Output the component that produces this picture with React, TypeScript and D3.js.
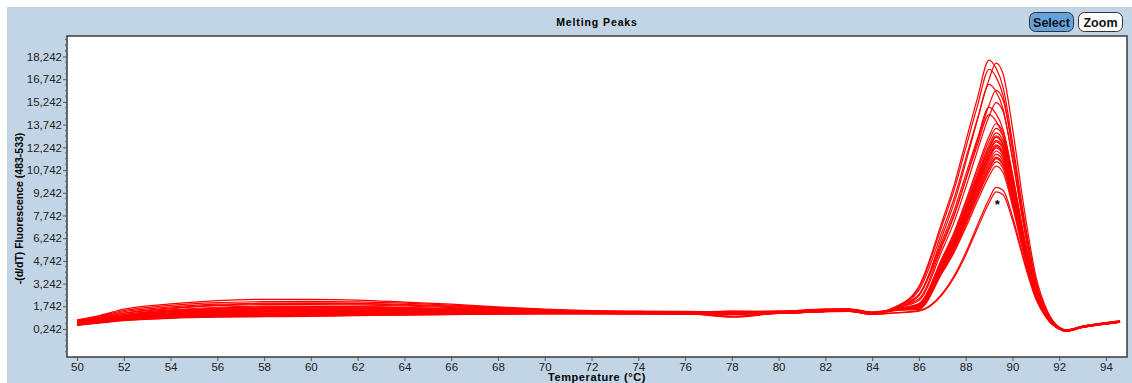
import React, { useEffect, useRef } from 'react';
import * as d3 from 'd3';

// temperatures shared by every trace (°C)
const temps = [50, 51, 52, 54, 56, 58, 60, 62, 64, 66, 68, 70, 72, 74, 76, 78, 80, 82, 83, 84,
  85, 86, 87, 87.5, 88, 88.5, 89, 89.3, 89.6, 90, 90.5, 91, 91.5, 92, 92.3, 93, 94, 94.6];

// -(d/dT) fluorescence per sample
const s01 = [0.85, 1.15, 1.55, 1.90, 2.12, 2.20, 2.20, 2.15, 2.02, 1.88, 1.70, 1.55, 1.45, 1.42, 1.40, 1.38, 1.40, 1.55, 1.58, 1.38,
  1.55, 1.76, 4.54, 6.05, 7.94, 9.95, 11.84, 12.6, 12.1, 9.58, 5.80, 2.65, 1.01, 0.28, 0.12, 0.38, 0.60, 0.72];
const s02 = [0.80, 1.10, 1.45, 1.80, 1.98, 2.05, 2.07, 2.03, 1.95, 1.82, 1.66, 1.52, 1.43, 1.40, 1.38, 1.40, 1.42, 1.55, 1.56, 1.35,
  1.55, 1.85, 4.75, 6.34, 8.32, 10.43, 12.41, 13.2, 12.67, 10.03, 6.07, 2.77, 1.06, 0.30, 0.14, 0.40, 0.62, 0.74];
const s03 = [0.75, 1.00, 1.30, 1.62, 1.82, 1.90, 1.92, 1.90, 1.82, 1.72, 1.60, 1.48, 1.40, 1.38, 1.36, 1.30, 1.38, 1.52, 1.55, 1.32,
  1.50, 1.65, 4.25, 5.66, 7.43, 9.32, 11.09, 11.8, 11.33, 8.97, 5.43, 2.48, 0.94, 0.25, 0.10, 0.36, 0.58, 0.70];
const s04 = [0.78, 1.02, 1.28, 1.58, 1.78, 1.85, 1.86, 1.83, 1.76, 1.66, 1.55, 1.46, 1.40, 1.36, 1.35, 1.42, 1.40, 1.50, 1.53, 1.30,
  1.65, 2.79, 6.72, 8.86, 11.48, 14.10, 16.4, 15.91, 14.76, 11.48, 6.89, 3.12, 1.15, 0.32, 0.16, 0.42, 0.64, 0.76];
const s05 = [0.70, 0.95, 1.20, 1.50, 1.68, 1.75, 1.76, 1.74, 1.68, 1.60, 1.52, 1.44, 1.38, 1.35, 1.33, 1.36, 1.37, 1.50, 1.52, 1.30,
  1.52, 1.71, 4.39, 5.86, 7.69, 9.64, 11.47, 12.2, 11.71, 9.27, 5.61, 2.56, 0.98, 0.27, 0.12, 0.37, 0.59, 0.71];
const s06 = [0.68, 0.92, 1.15, 1.45, 1.63, 1.70, 1.72, 1.70, 1.64, 1.57, 1.50, 1.43, 1.37, 1.35, 1.32, 1.28, 1.36, 1.48, 1.50, 1.28,
  1.70, 3.06, 7.38, 9.72, 12.6, 15.48, 18.0, 17.46, 16.2, 12.6, 7.56, 3.42, 1.26, 0.34, 0.18, 0.44, 0.66, 0.78];
const s07 = [0.72, 0.90, 1.12, 1.42, 1.58, 1.65, 1.66, 1.64, 1.60, 1.54, 1.47, 1.42, 1.36, 1.34, 1.32, 1.35, 1.35, 1.47, 1.50, 1.28,
  1.56, 1.89, 4.86, 6.48, 8.51, 10.67, 12.69, 13.5, 12.96, 10.26, 6.21, 2.84, 1.08, 0.30, 0.14, 0.40, 0.62, 0.74];
const s08 = [0.65, 0.88, 1.10, 1.38, 1.54, 1.60, 1.62, 1.60, 1.56, 1.51, 1.45, 1.40, 1.35, 1.33, 1.31, 1.40, 1.35, 1.46, 1.49, 1.27,
  1.48, 1.58, 4.07, 5.42, 7.12, 8.93, 10.62, 11.3, 10.85, 8.59, 5.20, 2.37, 0.90, 0.24, 0.10, 0.35, 0.58, 0.70];
const s09 = [0.66, 0.86, 1.06, 1.33, 1.49, 1.55, 1.56, 1.55, 1.52, 1.48, 1.43, 1.38, 1.34, 1.32, 1.30, 1.25, 1.34, 1.45, 1.48, 1.26,
  1.54, 1.81, 4.64, 6.19, 8.13, 10.19, 12.13, 12.9, 12.38, 9.80, 5.93, 2.71, 1.03, 0.29, 0.13, 0.39, 0.61, 0.73];
const s10 = [0.62, 0.84, 1.04, 1.30, 1.45, 1.50, 1.52, 1.51, 1.49, 1.45, 1.41, 1.37, 1.33, 1.31, 1.30, 1.33, 1.33, 1.45, 1.48, 1.26,
  1.68, 2.96, 7.13, 9.40, 12.18, 14.96, 17.4, 16.88, 15.66, 12.18, 7.31, 3.31, 1.22, 0.34, 0.17, 0.43, 0.65, 0.77];
const s11 = [0.64, 0.82, 1.00, 1.25, 1.40, 1.45, 1.47, 1.46, 1.45, 1.42, 1.39, 1.35, 1.32, 1.30, 1.29, 1.30, 1.32, 1.44, 1.47, 1.25,
  1.52, 1.68, 4.32, 5.76, 7.56, 9.48, 11.28, 12.0, 11.52, 9.12, 5.52, 2.52, 0.96, 0.26, 0.11, 0.37, 0.59, 0.71];
const s12 = [0.60, 0.80, 0.98, 1.22, 1.37, 1.42, 1.44, 1.44, 1.42, 1.40, 1.37, 1.34, 1.31, 1.30, 1.28, 1.05, 1.31, 1.43, 1.46, 1.25,
  1.58, 2.45, 5.90, 7.78, 10.08, 12.38, 14.4, 13.97, 12.96, 10.08, 6.05, 2.74, 1.01, 0.28, 0.13, 0.39, 0.61, 0.73];
const s13 = [0.62, 0.78, 0.96, 1.20, 1.33, 1.38, 1.40, 1.40, 1.39, 1.38, 1.35, 1.33, 1.30, 1.29, 1.28, 1.30, 1.31, 1.43, 1.46, 1.24,
  1.46, 1.54, 3.96, 5.28, 6.93, 8.69, 10.34, 11.0, 10.56, 8.36, 5.06, 2.31, 0.88, 0.24, 0.09, 0.34, 0.57, 0.69];
const s14 = [0.58, 0.77, 0.94, 1.17, 1.30, 1.35, 1.37, 1.37, 1.36, 1.35, 1.33, 1.31, 1.29, 1.28, 1.27, 1.28, 1.30, 1.42, 1.45, 1.24,
  1.54, 1.82, 4.68, 6.24, 8.19, 10.27, 12.22, 13.0, 12.48, 9.88, 5.98, 2.73, 1.04, 0.29, 0.13, 0.39, 0.61, 0.73];
const s15 = [0.60, 0.76, 0.92, 1.13, 1.26, 1.30, 1.32, 1.33, 1.33, 1.32, 1.31, 1.30, 1.28, 1.27, 1.26, 1.32, 1.30, 1.42, 1.45, 1.24,
  1.64, 2.24, 5.76, 7.68, 10.08, 12.64, 15.04, 16.0, 15.36, 12.16, 7.36, 3.36, 1.28, 0.34, 0.16, 0.42, 0.64, 0.76];
const s16 = [0.56, 0.74, 0.90, 1.11, 1.24, 1.28, 1.30, 1.31, 1.31, 1.31, 1.30, 1.29, 1.28, 1.27, 1.26, 1.27, 1.29, 1.41, 1.44, 1.23,
  1.53, 1.74, 4.46, 5.95, 7.81, 9.80, 11.66, 12.4, 11.90, 9.42, 5.70, 2.60, 0.99, 0.27, 0.12, 0.38, 0.60, 0.72];
const s17 = [0.58, 0.72, 0.88, 1.07, 1.18, 1.22, 1.25, 1.27, 1.28, 1.28, 1.28, 1.28, 1.27, 1.26, 1.25, 1.02, 1.29, 1.40, 1.43, 1.23,
  1.32, 1.45, 2.59, 3.74, 5.28, 7.10, 8.83, 9.6, 9.41, 7.68, 4.80, 2.30, 0.96, 0.26, 0.11, 0.36, 0.58, 0.70];
const s18 = [0.55, 0.70, 0.86, 1.04, 1.14, 1.18, 1.21, 1.23, 1.25, 1.26, 1.27, 1.27, 1.26, 1.26, 1.25, 1.26, 1.28, 1.40, 1.43, 1.22,
  1.50, 1.62, 4.18, 5.57, 7.31, 9.16, 10.90, 11.6, 11.14, 8.82, 5.34, 2.44, 0.93, 0.25, 0.10, 0.36, 0.58, 0.70];
const s19 = [0.52, 0.68, 0.84, 1.00, 1.09, 1.12, 1.15, 1.18, 1.21, 1.23, 1.25, 1.26, 1.26, 1.25, 1.24, 1.28, 1.28, 1.39, 1.42, 1.22,
  1.70, 2.49, 6.41, 8.54, 11.21, 14.06, 16.73, 17.8, 17.09, 13.53, 8.19, 3.74, 1.42, 0.36, 0.18, 0.44, 0.66, 0.78];
const s20 = [0.50, 0.66, 0.82, 0.97, 1.05, 1.08, 1.11, 1.15, 1.18, 1.21, 1.23, 1.25, 1.25, 1.25, 1.24, 1.25, 1.27, 1.39, 1.42, 1.21,
  1.30, 1.42, 2.51, 3.63, 5.12, 6.88, 8.56, 9.3, 9.11, 7.44, 4.65, 2.23, 0.93, 0.25, 0.10, 0.35, 0.57, 0.69];
const s21 = [0.48, 0.64, 0.80, 0.95, 1.02, 1.05, 1.08, 1.12, 1.16, 1.19, 1.22, 1.24, 1.25, 1.24, 1.23, 1.20, 1.27, 1.38, 1.41, 1.21,
  1.53, 1.78, 4.57, 6.10, 8.00, 10.03, 11.94, 12.7, 12.19, 9.65, 5.84, 2.67, 1.02, 0.28, 0.12, 0.38, 0.60, 0.72];
const s22 = [0.54, 0.69, 0.85, 1.02, 1.11, 1.15, 1.18, 1.20, 1.23, 1.25, 1.26, 1.27, 1.26, 1.25, 1.24, 1.10, 1.28, 1.40, 1.42, 1.22,
  1.62, 2.13, 5.47, 7.30, 9.58, 12.01, 14.29, 15.2, 14.59, 11.55, 6.99, 3.19, 1.22, 0.32, 0.15, 0.41, 0.63, 0.75];
const s23 = [0.63, 0.81, 0.99, 1.23, 1.38, 1.43, 1.45, 1.45, 1.43, 1.41, 1.38, 1.34, 1.31, 1.30, 1.28, 1.31, 1.31, 1.43, 1.46, 1.25,
  1.57, 1.93, 4.97, 6.62, 8.69, 10.90, 12.97, 13.8, 13.25, 10.49, 6.35, 2.90, 1.10, 0.30, 0.14, 0.40, 0.62, 0.74];
const s24 = [0.67, 0.89, 1.11, 1.39, 1.55, 1.61, 1.63, 1.61, 1.57, 1.52, 1.46, 1.40, 1.35, 1.33, 1.31, 1.33, 1.35, 1.46, 1.49, 1.27,
  1.49, 1.61, 4.14, 5.52, 7.25, 9.09, 10.81, 11.5, 11.04, 8.74, 5.29, 2.42, 0.92, 0.25, 0.10, 0.36, 0.58, 0.70];
const s25 = [0.57, 0.73, 0.89, 1.09, 1.21, 1.25, 1.28, 1.29, 1.30, 1.30, 1.29, 1.29, 1.27, 1.26, 1.25, 1.27, 1.29, 1.41, 1.44, 1.23,
  1.53, 1.72, 4.43, 5.90, 7.75, 9.72, 11.56, 12.3, 11.81, 9.35, 5.66, 2.58, 0.98, 0.27, 0.12, 0.37, 0.59, 0.71];
const s26 = [0.82, 1.05, 1.38, 1.70, 1.88, 1.95, 1.97, 1.94, 1.87, 1.76, 1.62, 1.50, 1.42, 1.39, 1.37, 1.36, 1.40, 1.53, 1.55, 1.33,
  1.60, 2.53, 6.11, 8.05, 10.43, 12.81, 14.9, 14.45, 13.41, 10.43, 6.26, 2.83, 1.04, 0.29, 0.13, 0.39, 0.61, 0.73];

const samples = [s01, s02, s03, s04, s05, s06, s07, s08, s09, s10, s11, s12, s13,
  s14, s15, s16, s17, s18, s19, s20, s21, s22, s23, s24, s25, s26];

const xTicks = [50, 52, 54, 56, 58, 60, 62, 64, 66, 68, 70, 72, 74, 76, 78, 80, 82, 84, 86, 88, 90, 92, 94];
const yTicks = [0.242, 1.742, 3.242, 4.742, 6.242, 7.742, 9.242, 10.742, 12.242, 13.742, 15.242, 16.742, 18.242];
const markerPoint = { t: 89.35, v: 8.5 };

const W = 1132;
const H = 383;
const plot = { left: 67, top: 36, right: 1127, bottom: 357 };
const FONT = '"Liberation Sans", Arial, sans-serif';

const App: React.FC = () => {
  const svgRef = useRef<SVGSVGElement>(null);

  useEffect(() => {
    if (!svgRef.current) return;
    const svg = d3.select(svgRef.current);
    svg.selectAll('*').remove();

    const x = d3.scaleLinear().domain([50, 94]).range([77, 1106]);
    const y = d3.scaleLinear().domain([0.242, 18.242]).range([329, 56.5]);

    // panel background
    svg.append('rect').attr('x', 7).attr('y', 7).attr('width', W - 7).attr('height', H - 7)
      .attr('fill', '#c2d5e6');

    svg.append('text')
      .attr('x', (plot.left + plot.right) / 2).attr('y', 26)
      .attr('text-anchor', 'middle')
      .style('font-family', FONT).style('font-size', '10.5px').style('font-weight', 'bold')
      .style('letter-spacing', '0.9px')
      .text('Melting Peaks');

    // buttons
    const buttons = [
      { label: 'Select', x: 1029, fill: '#64a3dd' },
      { label: 'Zoom', x: 1078, fill: '#ffffff' },
    ];
    buttons.forEach(b => {
      svg.append('rect').attr('x', b.x + 0.5).attr('y', 12.5).attr('width', 44).attr('height', 19)
        .attr('rx', 6).attr('fill', b.fill).attr('stroke', '#333').attr('stroke-width', 1);
      svg.append('text').attr('x', b.x + 22.5).attr('y', 26.5).attr('text-anchor', 'middle')
        .style('font-family', FONT).style('font-size', '12.5px').style('font-weight', 'bold')
        .attr('fill', '#111').text(b.label);
    });

    // plot area
    svg.append('rect')
      .attr('x', plot.left).attr('y', plot.top)
      .attr('width', plot.right - plot.left).attr('height', plot.bottom - plot.top)
      .attr('fill', '#fff').attr('stroke', '#3a3a3a').attr('stroke-width', 1.5);

    svg.append('clipPath').attr('id', 'plotClip').append('rect')
      .attr('x', plot.left + 1).attr('y', plot.top + 1)
      .attr('width', plot.right - plot.left - 2).attr('height', plot.bottom - plot.top - 2);

    const line = d3.line<number>()
      .x((_, i) => x(temps[i]))
      .y(d => y(d))
      .curve(d3.curveMonotoneX);

    svg.append('g').attr('clip-path', 'url(#plotClip)')
      .selectAll('path')
      .data(samples)
      .enter()
      .append('path')
      .attr('d', d => line(d))
      .attr('fill', 'none')
      .attr('stroke', '#ff0000')
      .attr('stroke-width', 1.2);

    svg.append('text')
      .attr('x', x(markerPoint.t)).attr('y', y(markerPoint.v) + 5)
      .attr('text-anchor', 'middle')
      .style('font-family', FONT).style('font-size', '13px').style('font-weight', 'bold')
      .text('*');

    // x axis
    const xAxis = svg.append('g')
      .attr('transform', `translate(0,${plot.bottom})`)
      .call(d3.axisBottom(x).tickValues(xTicks).tickSize(4).tickPadding(2).tickFormat(d3.format('d')));
    xAxis.select('.domain').remove();
    xAxis.selectAll('line').attr('stroke', '#555');
    xAxis.selectAll('text').style('font-family', FONT).style('font-size', '11.5px').attr('fill', '#222');

    // y axis with minor ticks
    const minor: number[] = [];
    yTicks.forEach(v => { for (let k = 1; k < 4; k++) minor.push(v + k * 0.375); });
    minor.push(0.242 - 0.375, 0.242 - 0.75, 0.242 - 1.125, 0.242 - 1.5, 18.242 + 0.375, 18.242 + 0.75, 18.242 + 1.125);
    svg.append('g')
      .selectAll('line')
      .data(minor.filter(v => y(v) > plot.top + 2 && y(v) < plot.bottom - 2))
      .enter()
      .append('line')
      .attr('x1', plot.left - 2).attr('x2', plot.left)
      .attr('y1', d => y(d)).attr('y2', d => y(d))
      .attr('stroke', '#666');

    const yAxis = svg.append('g')
      .attr('transform', `translate(${plot.left},0)`)
      .call(d3.axisLeft(y).tickValues(yTicks).tickSize(4).tickPadding(1)
        .tickFormat(d => (+d).toFixed(3).replace('.', ',')));
    yAxis.select('.domain').remove();
    yAxis.selectAll('line').attr('stroke', '#555');
    yAxis.selectAll('text').style('font-family', FONT).style('font-size', '11.5px').attr('fill', '#222');

    svg.append('text')
      .attr('transform', `translate(23,${(plot.top + plot.bottom) / 2 + 12}) rotate(-90)`)
      .attr('text-anchor', 'middle')
      .style('font-family', FONT).style('font-size', '10.5px').style('font-weight', 'bold')
      .text('-(d/dT) Fluorescence (483-533)');

    svg.append('text')
      .attr('x', (plot.left + plot.right) / 2).attr('y', 381)
      .attr('text-anchor', 'middle')
      .style('font-family', FONT).style('font-size', '11px').style('font-weight', 'bold')
      .style('letter-spacing', '0.6px')
      .text('Temperature (°C)');
  }, []);

  return (
    <div style={{ position: 'fixed', left: 0, top: 0, width: W, height: H, background: '#fff' }}>
      <svg ref={svgRef} width={W} height={H} />
    </div>
  );
};

export default App;
